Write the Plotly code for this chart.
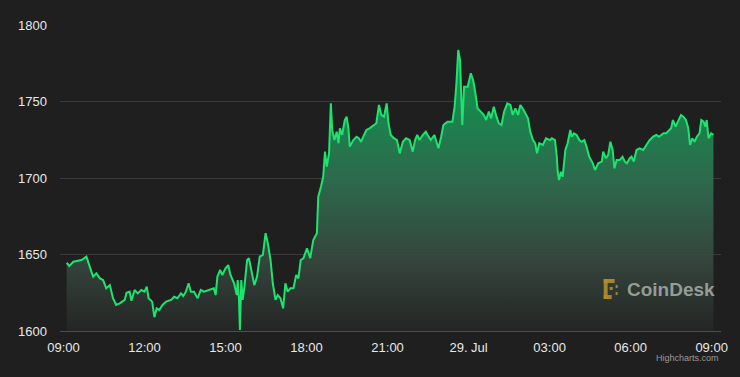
import plotly.graph_objects as go

times = [
    "2022-07-28 09:07", "2022-07-28 09:13", "2022-07-28 09:22", "2022-07-28 09:33", "2022-07-28 09:40",
    "2022-07-28 09:51", "2022-07-28 09:57", "2022-07-28 10:02", "2022-07-28 10:06", "2022-07-28 10:13",
    "2022-07-28 10:21", "2022-07-28 10:28", "2022-07-28 10:35", "2022-07-28 10:43", "2022-07-28 10:50",
    "2022-07-28 10:57", "2022-07-28 11:05", "2022-07-28 11:16", "2022-07-28 11:20", "2022-07-28 11:27",
    "2022-07-28 11:31", "2022-07-28 11:38", "2022-07-28 11:45", "2022-07-28 11:53", "2022-07-28 12:00",
    "2022-07-28 12:05", "2022-07-28 12:09", "2022-07-28 12:17", "2022-07-28 12:22", "2022-07-28 12:27",
    "2022-07-28 12:33", "2022-07-28 12:40", "2022-07-28 12:48", "2022-07-28 12:59", "2022-07-28 13:06",
    "2022-07-28 13:13", "2022-07-28 13:21", "2022-07-28 13:26", "2022-07-28 13:32", "2022-07-28 13:38",
    "2022-07-28 13:43", "2022-07-28 13:50", "2022-07-28 13:58", "2022-07-28 14:05", "2022-07-28 14:12",
    "2022-07-28 14:23", "2022-07-28 14:34", "2022-07-28 14:38", "2022-07-28 14:42", "2022-07-28 14:48",
    "2022-07-28 14:53", "2022-07-28 15:00", "2022-07-28 15:06", "2022-07-28 15:11", "2022-07-28 15:19",
    "2022-07-28 15:25", "2022-07-28 15:27", "2022-07-28 15:30", "2022-07-28 15:32", "2022-07-28 15:35",
    "2022-07-28 15:38", "2022-07-28 15:42", "2022-07-28 15:48", "2022-07-28 15:52", "2022-07-28 15:59",
    "2022-07-28 16:04", "2022-07-28 16:10", "2022-07-28 16:16", "2022-07-28 16:23", "2022-07-28 16:29",
    "2022-07-28 16:34", "2022-07-28 16:40", "2022-07-28 16:45", "2022-07-28 16:51", "2022-07-28 16:56",
    "2022-07-28 17:02", "2022-07-28 17:08", "2022-07-28 17:13", "2022-07-28 17:18", "2022-07-28 17:24",
    "2022-07-28 17:31", "2022-07-28 17:37", "2022-07-28 17:42", "2022-07-28 17:47", "2022-07-28 17:53",
    "2022-07-28 18:01", "2022-07-28 18:08", "2022-07-28 18:15", "2022-07-28 18:23", "2022-07-28 18:26",
    "2022-07-28 18:32", "2022-07-28 18:37", "2022-07-28 18:41", "2022-07-28 18:45", "2022-07-28 18:50",
    "2022-07-28 18:54", "2022-07-28 18:57", "2022-07-28 19:02", "2022-07-28 19:07", "2022-07-28 19:11",
    "2022-07-28 19:14", "2022-07-28 19:19", "2022-07-28 19:25", "2022-07-28 19:29", "2022-07-28 19:33",
    "2022-07-28 19:36", "2022-07-28 19:44", "2022-07-28 19:51", "2022-07-28 19:56", "2022-07-28 20:01",
    "2022-07-28 20:06", "2022-07-28 20:13", "2022-07-28 20:20", "2022-07-28 20:28", "2022-07-28 20:35",
    "2022-07-28 20:41", "2022-07-28 20:46", "2022-07-28 20:52", "2022-07-28 20:58", "2022-07-28 21:02",
    "2022-07-28 21:07", "2022-07-28 21:14", "2022-07-28 21:21", "2022-07-28 21:27", "2022-07-28 21:34",
    "2022-07-28 21:41", "2022-07-28 21:49", "2022-07-28 21:56", "2022-07-28 22:01", "2022-07-28 22:06",
    "2022-07-28 22:11", "2022-07-28 22:18", "2022-07-28 22:25", "2022-07-28 22:29", "2022-07-28 22:36",
    "2022-07-28 22:44", "2022-07-28 22:53", "2022-07-28 22:59", "2022-07-28 23:04", "2022-07-28 23:13",
    "2022-07-28 23:24", "2022-07-28 23:29", "2022-07-28 23:33", "2022-07-28 23:37", "2022-07-28 23:41",
    "2022-07-28 23:44", "2022-07-28 23:46", "2022-07-28 23:50", "2022-07-28 23:58", "2022-07-29 00:05",
    "2022-07-29 00:10", "2022-07-29 00:14", "2022-07-29 00:20", "2022-07-29 00:27", "2022-07-29 00:34",
    "2022-07-29 00:39", "2022-07-29 00:45", "2022-07-29 00:50", "2022-07-29 00:56", "2022-07-29 01:02",
    "2022-07-29 01:07", "2022-07-29 01:13", "2022-07-29 01:19", "2022-07-29 01:26", "2022-07-29 01:33",
    "2022-07-29 01:38", "2022-07-29 01:44", "2022-07-29 01:50", "2022-07-29 01:55", "2022-07-29 02:00",
    "2022-07-29 02:06", "2022-07-29 02:12", "2022-07-29 02:17", "2022-07-29 02:23", "2022-07-29 02:28",
    "2022-07-29 02:32", "2022-07-29 02:37", "2022-07-29 02:45", "2022-07-29 02:52", "2022-07-29 03:01",
    "2022-07-29 03:05", "2022-07-29 03:12", "2022-07-29 03:16", "2022-07-29 03:18", "2022-07-29 03:21",
    "2022-07-29 03:25", "2022-07-29 03:29", "2022-07-29 03:35", "2022-07-29 03:40", "2022-07-29 03:46",
    "2022-07-29 03:49", "2022-07-29 03:54", "2022-07-29 04:00", "2022-07-29 04:06", "2022-07-29 04:11",
    "2022-07-29 04:17", "2022-07-29 04:22", "2022-07-29 04:28", "2022-07-29 04:36", "2022-07-29 04:41",
    "2022-07-29 04:48", "2022-07-29 04:56", "2022-07-29 04:59", "2022-07-29 05:05", "2022-07-29 05:10",
    "2022-07-29 05:15", "2022-07-29 05:20", "2022-07-29 05:24", "2022-07-29 05:29", "2022-07-29 05:36",
    "2022-07-29 05:42", "2022-07-29 05:47", "2022-07-29 05:52", "2022-07-29 05:58", "2022-07-29 06:02",
    "2022-07-29 06:07", "2022-07-29 06:13", "2022-07-29 06:20", "2022-07-29 06:28", "2022-07-29 06:35",
    "2022-07-29 06:42", "2022-07-29 06:50", "2022-07-29 06:57", "2022-07-29 07:03", "2022-07-29 07:08",
    "2022-07-29 07:13", "2022-07-29 07:19", "2022-07-29 07:25", "2022-07-29 07:30", "2022-07-29 07:34",
    "2022-07-29 07:40", "2022-07-29 07:45", "2022-07-29 07:52", "2022-07-29 07:57", "2022-07-29 08:03",
    "2022-07-29 08:08", "2022-07-29 08:12", "2022-07-29 08:17", "2022-07-29 08:22", "2022-07-29 08:27",
    "2022-07-29 08:33", "2022-07-29 08:37", "2022-07-29 08:42", "2022-07-29 08:46", "2022-07-29 08:49",
    "2022-07-29 08:53", "2022-07-29 08:59", "2022-07-29 09:04",
]

prices = [
    1644.6, 1642.5, 1645.3, 1646.0, 1646.4,
    1648.6, 1644.0, 1638.8, 1635.5, 1637.7,
    1634.4, 1633.3, 1627.9, 1630.0, 1621.4,
    1617.0, 1618.1, 1620.3, 1625.0, 1625.7,
    1619.8, 1626.8, 1624.6, 1626.8, 1625.7,
    1629.0, 1621.4, 1619.2, 1609.0, 1614.8,
    1613.7, 1617.0, 1619.2, 1620.3, 1622.4,
    1621.4, 1624.6, 1622.9, 1625.7, 1631.2,
    1625.7, 1625.7, 1621.4, 1626.8, 1625.7,
    1626.8, 1627.9, 1623.5, 1635.5, 1639.9,
    1636.6, 1641.0, 1643.1, 1636.6, 1631.2,
    1623.5, 1633.3, 1620.3, 1600.7, 1633.3,
    1620.3, 1629.0, 1646.4, 1647.5, 1636.6,
    1630.0, 1635.5, 1648.6, 1649.7, 1663.9,
    1657.3, 1646.4, 1631.2, 1620.3, 1623.5,
    1621.4, 1614.8, 1631.2, 1625.7, 1627.9,
    1627.9, 1636.6, 1634.4, 1646.4, 1647.5,
    1654.0, 1647.5, 1659.5, 1663.9, 1687.8,
    1694.3, 1700.8, 1717.2, 1707.4, 1716.1,
    1748.8, 1731.4, 1724.8, 1730.3, 1722.7,
    1732.5, 1728.1, 1737.9, 1740.1, 1732.5,
    1720.5, 1724.8, 1727.0, 1726.0, 1723.7,
    1727.0, 1731.4, 1732.5, 1734.6, 1735.8,
    1747.7, 1741.2, 1740.1, 1748.8, 1735.8,
    1728.1, 1726.0, 1724.8, 1716.1, 1723.7,
    1726.0, 1724.8, 1717.2, 1724.8, 1728.1,
    1724.8, 1728.1, 1730.3, 1728.1, 1724.8,
    1728.1, 1719.4, 1727.0, 1734.6, 1736.8,
    1736.8, 1746.6, 1761.9, 1783.7, 1777.1,
    1751.0, 1734.6, 1759.7, 1759.7, 1768.4,
    1764.1, 1757.5, 1745.5, 1743.4, 1741.2,
    1737.9, 1743.4, 1739.0, 1746.6, 1740.1,
    1735.8, 1734.6, 1743.4, 1748.8, 1747.7,
    1741.2, 1745.5, 1741.2, 1747.7, 1745.5,
    1742.3, 1739.0, 1730.3, 1724.8, 1722.7,
    1716.1, 1722.7, 1721.6, 1726.0, 1724.8,
    1726.0, 1724.8, 1713.9, 1704.1, 1698.7,
    1704.1, 1700.8, 1718.3, 1722.7, 1731.4,
    1727.0, 1729.2, 1728.1, 1724.8, 1723.7,
    1724.8, 1720.5, 1713.9, 1709.6, 1705.2,
    1709.6, 1710.7, 1717.2, 1712.9, 1715.0,
    1723.7, 1718.3, 1706.3, 1711.8, 1711.8,
    1713.9, 1710.7, 1709.6, 1712.9, 1713.9,
    1710.7, 1718.3, 1719.4, 1718.3, 1721.6,
    1724.8, 1727.0, 1728.1, 1727.0, 1728.1,
    1729.2, 1729.2, 1731.4, 1732.5, 1737.9,
    1733.6, 1736.8, 1741.2, 1740.1, 1737.9,
    1732.5, 1721.6, 1726.0, 1723.7, 1727.0,
    1729.2, 1737.9, 1736.8, 1733.6, 1737.9,
    1726.0, 1729.2, 1728.1,
]

tick_vals = [
    "2022-07-28 09:00", "2022-07-28 12:00", "2022-07-28 15:00", "2022-07-28 18:00",
    "2022-07-28 21:00", "2022-07-29 00:00", "2022-07-29 03:00", "2022-07-29 06:00",
    "2022-07-29 09:00",
]
tick_text = ["09:00", "12:00", "15:00", "18:00", "21:00", "29. Jul", "03:00", "06:00", "09:00"]
y_ticks = [1600, 1650, 1700, 1750, 1800]

BG = "#1f1f1f"
FONT = "Liberation Sans, Arial, sans-serif"

fig = go.Figure()
fig.add_trace(go.Scatter(
    x=times, y=prices, mode="lines",
    line=dict(color="#1de46f", width=2),
    fill="tozeroy",
    fillgradient=dict(
        type="vertical", start=1600, stop=1790,
        colorscale=[
            [0.0, "rgba(36,38,37,0.9)"],
            [0.25, "rgba(56,74,64,0.9)"],
            [0.52, "rgba(46,112,80,0.92)"],
            [0.78, "rgba(24,142,80,0.95)"],
            [1.0, "rgba(14,156,80,0.95)"],
        ],
    ),
    hoverinfo="x+y", showlegend=False,
))

# CoinDesk watermark icon (decorative)
gold = "rgba(176,142,44,0.9)"
def px2paper(x0, y0, x1, y1):
    return dict(x0=(x0 - 60) / 665, x1=(x1 - 60) / 665,
                y0=(331 - y0) / 306, y1=(331 - y1) / 306)
icon_rects = [
    (607, 279, 618, 283),
    (607, 279, 611, 299),
    (607, 295, 615, 299),
    (613, 287, 616, 290),
    (619, 285, 621, 288),
    (619, 292, 621, 295),
]
for r in icon_rects:
    fig.add_shape(type="rect", xref="paper", yref="paper", line_width=0,
                  fillcolor=gold, layer="above", **px2paper(*r))

fig.add_annotation(
    text="<b>CoinDesk</b>", xref="paper", yref="paper",
    x=(628 - 60) / 665, y=(331 - 289) / 306, xanchor="left", yanchor="middle",
    showarrow=False, font=dict(family=FONT, size=19, color="rgba(185,190,186,0.75)"),
)
fig.add_annotation(
    text="Highcharts.com", xref="paper", yref="paper",
    x=1.0, y=(331 - 358) / 306, xanchor="right", yanchor="middle",
    showarrow=False, font=dict(family=FONT, size=9, color="#9a9a9a"),
)

fig.update_layout(
    width=740, height=377,
    margin=dict(l=60, r=15, t=25, b=46),
    paper_bgcolor=BG, plot_bgcolor=BG,
    font=dict(family=FONT, size=13, color="#e8e8e8"),
    showlegend=False,
    xaxis=dict(
        type="date",
        range=["2022-07-28 08:52:16", "2022-07-29 09:20:46"],
        tickvals=tick_vals, ticktext=tick_text,
        showgrid=False, zeroline=False,
        showline=True, linecolor="#4d4d4d", linewidth=1,
        ticks="", ticklabelstandoff=4,
        tickfont=dict(family=FONT, size=13, color="#e8e8e8"),
    ),
    yaxis=dict(
        range=[1600, 1800], tickvals=y_ticks,
        showgrid=True, gridcolor="#3a3a3a", gridwidth=1,
        zeroline=False, showline=False, ticks="",
        ticklabelstandoff=12,
        tickfont=dict(family=FONT, size=13, color="#e8e8e8"),
    ),
)

fig.write_html("out.html")
